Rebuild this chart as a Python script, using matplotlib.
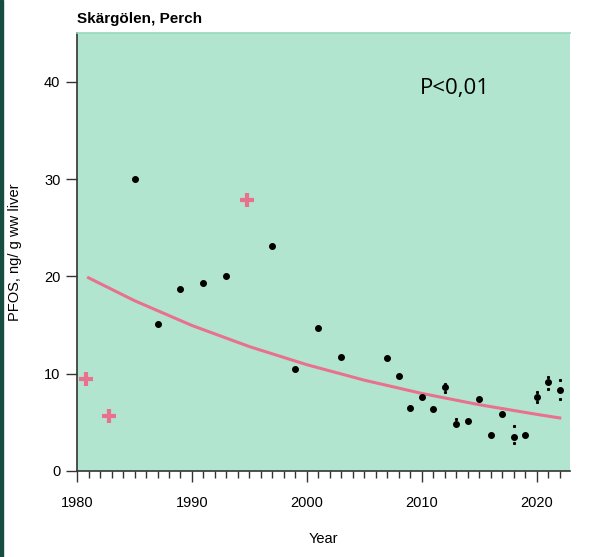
import numpy as np
import matplotlib
matplotlib.use("Agg")
import matplotlib.pyplot as plt
from matplotlib.patches import Rectangle

# Annual values (black dots)
years = [1985, 1987, 1989, 1991, 1993, 1997, 1999, 2001, 2003, 2007, 2008, 2009,
         2010, 2011, 2012, 2013, 2014, 2015, 2016, 2017, 2018, 2019, 2020, 2021, 2022]
pfos = [30.0, 15.1, 18.7, 19.3, 20.0, 23.1, 10.5, 14.7, 11.7, 11.6, 9.75, 6.5,
        7.6, 6.4, 8.6, 4.8, 5.1, 7.4, 3.7, 5.9, 3.5, 3.7, 7.6, 9.1, 8.3]

# Small marks above/below some points
err_years = [2012, 2012, 2013, 2018, 2018, 2020, 2020, 2021, 2021, 2022, 2022]
err_vals = [8.9, 8.1, 5.3, 4.65, 2.85, 8.15, 7.1, 9.7, 8.4, 9.3, 7.35]

# Pink crosses (excluded years)
out_years = [1980.8, 1982.8, 1994.8]
out_vals = [9.45, 5.6, 27.8]

# Trend line
trend_years = [1981, 1985, 1990, 1995, 2000, 2005, 2010, 2015, 2020, 2022]
trend_vals = [19.85, 17.5, 14.95, 12.78, 10.92, 9.33, 7.97, 6.81, 5.82, 5.45]

pink = "#e8718d"
green = "#b2e5cf"

plt.rcParams["font.family"] = ["Liberation Sans", "DejaVu Sans"]

fig = plt.figure(figsize=(6.02, 5.57), dpi=100)
ax = fig.add_axes([0.128, 0.1544, 0.819, 0.7863])
ax.set_facecolor(green)

ax.plot(trend_years, trend_vals, color=pink, lw=2.2, zorder=2)
ax.plot(out_years, out_vals, "+", color=pink, ms=10, mew=3, zorder=3)
ax.plot(years, pfos, "o", color="black", ms=4, zorder=4)
ax.plot(err_years, err_vals, "s", color="black", ms=1.2, zorder=4)

ax.set_xlim(1980, 2022.9)
ax.set_ylim(0, 45)
ax.set_xticks(range(1980, 2021, 10))
ax.set_xticks(range(1980, 2023), minor=True)
ax.set_yticks(range(0, 41, 10))

ax.tick_params(axis="both", which="major", length=8, width=1, color="#333333",
               labelsize=10.5, pad=4)
ax.tick_params(axis="x", which="minor", length=5, width=1, color="#333333")
ax.tick_params(axis="x", pad=10)

for s in ["left", "bottom"]:
    ax.spines[s].set_color("#333333")
    ax.spines[s].set_linewidth(1.2)
ax.spines["right"].set_visible(False)
ax.spines["top"].set_color("#96d8b9")
ax.spines["top"].set_linewidth(1.2)

ax.set_xlabel("Year", fontsize=10.5, labelpad=16)
ax.set_ylabel("PFOS, ng/ g ww liver", fontsize=10.5, labelpad=16)
ax.set_title("Skärgölen, Perch", loc="left", fontsize=11, fontweight="bold", pad=7)

ax.text(0.766, 0.873, "P<0,01", transform=ax.transAxes, fontsize=16,
        family=["Open Sans", "DejaVu Sans"], ha="center", va="center")

fig.patches.append(Rectangle((0, 0), 3 / 602, 1, transform=fig.transFigure,
                             color="#174d3e", zorder=10))

fig.savefig("out.png", dpi=100)
